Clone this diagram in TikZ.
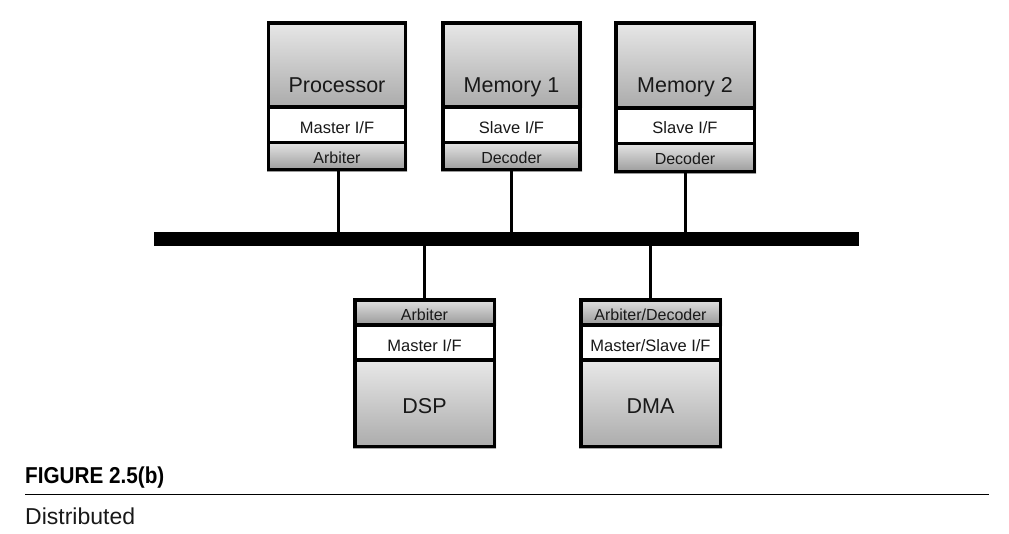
\documentclass[tikz,border=0pt]{standalone}
\usepackage{fontspec}
\setmainfont{Liberation Sans}
\newfontfamily\capfont[FakeStretch=0.9]{Liberation Sans}
\definecolor{gtop}{gray}{0.91}
\definecolor{gbot}{gray}{0.67}
\definecolor{stop}{gray}{0.90}
\definecolor{sbot}{gray}{0.60}
\definecolor{txt}{gray}{0.10}
\begin{document}
\begin{tikzpicture}[x=1pt,y=-1pt,
  frame/.style={draw=black, line width=3.5pt, inner sep=0pt, outer sep=0pt, minimum width=137pt},
  divider/.style={draw=black, line width=3.5pt},
  mainshade/.style={top color=gtop, bottom color=gbot},
  stripshade/.style={top color=stop, bottom color=sbot},
  bigtext/.style={anchor=base, inner sep=0pt, text=txt, font=\fontsize{21.5}{24}\selectfont},
  iftext/.style={anchor=base, inner sep=0pt, text=txt, font=\fontsize{16.5}{19}\selectfont},
  striptext/.style={anchor=base, inner sep=0pt, text=txt, font=\fontsize{16}{19}\selectfont},
  conn/.style={draw=black, line width=3pt},
  busbar/.style={fill=black, draw=none, inner sep=0pt, outer sep=0pt, minimum width=705pt, minimum height=14pt}
]
\useasboundingbox (0,0) rectangle (1009,533);
\fill[white] (0,0) rectangle (1009,533);

% ---------- Processor ----------
\path[mainshade] (267,21) rectangle (407,107);
\path[fill=white] (267,107) rectangle (407,142);
\path[stripshade] (267,142) rectangle (407,171);
\node[frame, minimum height=146.5pt] (proc) at (337,96) {};
\draw[divider] (proc.west |- 0,107) -- (proc.east |- 0,107);
\draw[divider] (proc.west |- 0,142.5) -- (proc.east |- 0,142.5);
\node[bigtext] (proct) at (337,92) {Processor};
\node[iftext] (procif) at (337,133) {Master I/F};
\node[striptext] (procarb) at (337,163) {Arbiter};

% ---------- Memory 1 ----------
\path[mainshade] (441,21) rectangle (582,107);
\path[fill=white] (441,107) rectangle (582,142);
\path[stripshade] (441,142) rectangle (582,171);
\node[frame, minimum height=146.5pt] (mem1) at (511.5,96) {};
\draw[divider] (mem1.west |- 0,107) -- (mem1.east |- 0,107);
\draw[divider] (mem1.west |- 0,142.5) -- (mem1.east |- 0,142.5);
\node[bigtext] (mem1t) at (511.5,92) {Memory 1};
\node[iftext] (mem1if) at (511.5,133) {Slave I/F};
\node[striptext] (mem1dec) at (511.5,163) {Decoder};

% ---------- Memory 2 ----------
\path[mainshade] (614,21) rectangle (756,108);
\path[fill=white] (614,108) rectangle (756,143);
\path[stripshade] (614,143) rectangle (756,173);
\node[frame, minimum width=138.5pt, minimum height=148.5pt] (mem2) at (685,97) {};
\draw[divider] (mem2.west |- 0,108) -- (mem2.east |- 0,108);
\draw[divider] (mem2.west |- 0,143.5) -- (mem2.east |- 0,143.5);
\node[bigtext] (mem2t) at (685,92) {Memory 2};
\node[iftext] (mem2if) at (685,133) {Slave I/F};
\node[striptext] (mem2dec) at (685,164.5) {Decoder};

% ---------- Bus ----------
\node[busbar] (bus) at (506.5,239) {};

% ---------- DSP ----------
\path[stripshade] (353,298) rectangle (496,325);
\path[fill=white] (353,325) rectangle (496,360);
\path[mainshade] (353,360) rectangle (496,448);
\node[frame, minimum width=139.5pt, minimum height=146.5pt] (dsp) at (424.5,373) {};
\draw[divider] (dsp.west |- 0,325) -- (dsp.east |- 0,325);
\draw[divider] (dsp.west |- 0,360) -- (dsp.east |- 0,360);
\node[striptext] (dsparb) at (424.5,320) {Arbiter};
\node[iftext] (dspif) at (424.5,351) {Master I/F};
\node[bigtext] (dspt) at (424.5,413) {DSP};

% ---------- DMA ----------
\path[stripshade] (579,298) rectangle (722,325);
\path[fill=white] (579,325) rectangle (722,360);
\path[mainshade] (579,360) rectangle (722,448);
\node[frame, minimum width=139.5pt, minimum height=146.5pt] (dma) at (650.5,373) {};
\draw[divider] (dma.west |- 0,325) -- (dma.east |- 0,325);
\draw[divider] (dma.west |- 0,360) -- (dma.east |- 0,360);
\node[striptext] (dmaarb) at (650.5,320) {Arbiter/Decoder};
\node[iftext] (dmaif) at (650.5,351) {Master/Slave I/F};
\node[bigtext] (dmat) at (650.5,413) {DMA};

% ---------- Connectors ----------
\draw[conn] ([xshift=1pt]proc.south) -- ([xshift=1pt]proc.south |- bus.north);
\draw[conn] (mem1.south) -- (mem1.south |- bus.north);
\draw[conn] (mem2.south) -- (mem2.south |- bus.north);
\draw[conn] (dsp.north) -- (dsp.north |- bus.south);
\draw[conn] (dma.north) -- (dma.north |- bus.south);

% ---------- Caption ----------
\node[anchor=base west, inner sep=0pt, font=\capfont\bfseries\fontsize{23}{25}\selectfont] (figlabel) at (25,483) {FIGURE 2.5(b)};
\coordinate (ruleL) at (25,494.5);
\coordinate (ruleR) at (989,494.5);
\draw[line width=1.5pt] (ruleL) -- (ruleR);
\node[anchor=base west, inner sep=0pt, text=txt, font=\fontsize{23}{25}\selectfont] (figtitle) at (25,524) {Distributed};
\end{tikzpicture}
\end{document}
